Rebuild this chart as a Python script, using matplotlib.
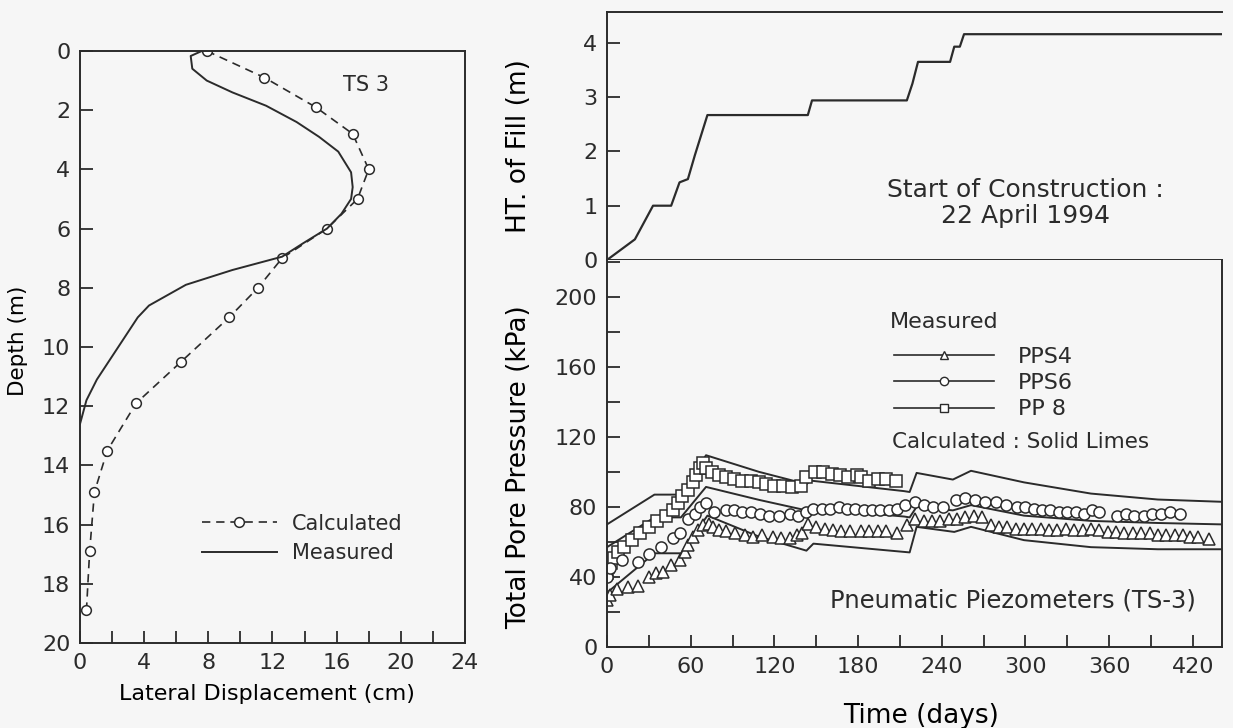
import matplotlib.pyplot as plt
from matplotlib.lines import Line2D
from matplotlib.ticker import MultipleLocator

# ---- lateral displacement profile (TS3) ----
calc_depth = [0, 0.9, 1.9, 2.8, 4.0, 5.0, 6.0, 7.0, 8.0, 9.0, 10.5, 11.9, 13.5, 14.9, 16.9, 18.9]
calc_disp = [7.9, 11.5, 14.7, 17.0, 18.0, 17.3, 15.4, 12.6, 11.1, 9.3, 6.3, 3.5, 1.7, 0.9, 0.6, 0.4]

meas_depth = [0, 0.17, 0.6, 1.0, 1.4, 1.85, 2.4, 2.9, 3.4, 4.1, 4.6, 5.0, 5.5, 6.0, 6.5,
              6.95, 7.4, 7.9, 8.6, 9.0, 10.4, 11.1, 11.8, 12.6]
meas_disp = [7.6, 6.9, 7.0, 7.9, 9.5, 11.6, 13.5, 14.9, 16.1, 16.9, 17.0, 16.9, 16.3, 15.4, 13.9,
             12.6, 9.5, 6.6, 4.3, 3.6, 1.9, 1.05, 0.4, 0.0]

# ---- height of fill ----
fill_day = [0, 20, 33, 46, 52, 58, 63, 72, 144, 147, 215, 219, 223, 246, 249, 253, 256, 441]
fill_h = [0, 0.38, 1.0, 1.0, 1.43, 1.49, 1.93, 2.67, 2.67, 2.94, 2.94, 3.25, 3.65, 3.65, 3.93, 3.93, 4.16, 4.16]

# ---- calculated pore pressure (solid lines) ----
calc8_day = [0, 34, 53, 71, 109, 143, 146, 213, 217, 222, 248, 261, 299, 347, 395, 441]
calc8_kpa = [70, 87, 87, 109.5, 100, 93, 95, 89, 88.5, 99.4, 95.6, 100.6, 94, 87.6, 84.2, 82.9]

calc6_day = [0, 34, 53, 71, 109, 143, 146, 213, 217, 222, 248, 261, 299, 347, 395, 441]
calc6_kpa = [57, 74, 74, 91.4, 84, 78, 79, 74.5, 74, 80, 78, 81, 75, 72, 70.8, 70]

calc4_day = [0, 34, 53, 72, 109, 143, 148, 217, 222, 249, 261, 299, 347, 395, 441]
calc4_kpa = [31, 53.5, 53.5, 75, 63, 55, 59, 54, 68.6, 65.7, 68.6, 61, 57, 55.8, 55.8]

# ---- measured pore pressure ----
pp8_day = [0, 1, 3, 5, 8, 12, 18, 24, 30, 36, 42, 47, 51, 54, 58, 62, 64, 67, 69, 71, 75, 80,
           85, 91, 97, 103, 109, 114, 120, 126, 133, 139, 143, 149, 155, 161, 167, 173, 179,
           182, 188, 194, 200, 207]
pp8_kpa = [42, 45.7, 48, 51, 54, 57, 61, 65, 68.6, 72, 75, 78, 82, 86, 89.5, 94, 98, 102, 105,
           102, 100, 98, 97, 96, 95, 95, 94, 93, 92, 92, 91.4, 92, 97, 100, 100, 99, 98, 97, 98,
           97, 95, 96, 96, 95]

pps6_day = [0, 2, 11, 22, 30, 39, 47, 52, 58, 63, 67, 71, 77, 85, 91, 97, 103, 110, 116, 123,
            131, 137, 143, 148, 154, 160, 166, 172, 178, 184, 190, 196, 202, 208, 214, 221,
            227, 234, 241, 250, 257, 264, 271, 279, 286, 294, 300, 306, 312, 318, 324, 330,
            336, 342, 348, 353, 366, 372, 378, 385, 391, 397, 404, 411]
pps6_kpa = [40, 45, 49.5, 48.6, 53, 57, 62, 65, 73, 76, 80, 82, 77, 78, 78, 77, 77, 76, 75, 75,
            76, 75, 77, 79, 79, 79, 80, 79, 79, 78, 78, 78, 78, 79, 81, 83, 81, 80, 80, 84, 85,
            84, 83, 83, 81, 80, 80, 79, 78, 78, 77, 77, 77, 76, 78, 77, 75, 76, 75, 75, 76, 76,
            77, 76]

pps4_day = [0, 2, 7, 15, 22, 30, 35, 40, 46, 52, 56, 58, 62, 65, 69, 73, 76, 80, 85, 92, 99,
            105, 111, 119, 125, 131, 136, 140, 144, 150, 156, 162, 168, 174, 182, 188, 194,
            200, 208, 215, 221, 227, 233, 239, 245, 251, 257, 263, 269, 275, 281, 287, 293,
            299, 305, 311, 317, 323, 329, 335, 341, 347, 353, 359, 365, 371, 377, 383, 389,
            395, 401, 407, 413, 418, 424, 432]
pps4_kpa = [26.7, 29.5, 33, 34, 35, 40, 42, 43, 47, 49.5, 54, 58, 63, 67, 69.5, 70.5, 68.6, 67,
            66, 65, 64, 63, 64, 63, 62, 62, 64, 65, 70.5, 68.6, 67.6, 67, 66, 66, 66, 66, 66,
            66, 65, 69.5, 73, 72, 72, 72, 73, 73, 74, 75, 74, 69.5, 68.6, 68.6, 67.6, 67.6,
            67.6, 67.6, 66.7, 66.7, 67.6, 66.7, 66.7, 67.6, 66.7, 65.7, 65.7, 64.8, 64.8, 64.8,
            64.8, 63.8, 63.8, 63.8, 63.8, 62.9, 62.9, 61.9]

ink = '#2b2b2b'
bg = '#f6f6f6'
plt.rcParams['font.family'] = 'DejaVu Sans'
plt.rcParams['text.color'] = ink
plt.rcParams['axes.edgecolor'] = ink
plt.rcParams['axes.linewidth'] = 1.4

fig = plt.figure(figsize=(12.33, 7.28), dpi=100, facecolor=bg)
ax_d = fig.add_axes([0.0649, 0.1168, 0.3122, 0.8132], facecolor=bg)
ax_f = fig.add_axes([0.4923, 0.6429, 0.4988, 0.3407], facecolor=bg)
ax_p = fig.add_axes([0.4923, 0.1113, 0.4988, 0.5316], facecolor=bg, sharex=ax_f)

for ax in [ax_d, ax_f, ax_p]:
    ax.tick_params(which='both', direction='in', length=9, width=1.3, colors=ink,
                   labelsize=16, pad=7)

# left panel
ax_d.plot(calc_disp, calc_depth, color=ink, lw=1.2, ls=(0, (5, 3.5)), marker='o', ms=7,
          mfc='white', mec=ink, mew=1.1, label='Calculated')
ax_d.plot(meas_disp, meas_depth, color=ink, lw=1.4, label='Measured')
ax_d.set_xlim(0, 24)
ax_d.set_ylim(20, 0)
ax_d.xaxis.set_major_locator(MultipleLocator(4))
ax_d.xaxis.set_minor_locator(MultipleLocator(2))
ax_d.yaxis.set_major_locator(MultipleLocator(2))
ax_d.set_xlabel('Lateral Displacement (cm)', fontsize=16, labelpad=8, x=0.486)
ax_d.set_ylabel('Depth (m)', fontsize=15.5)
ax_d.yaxis.set_label_coords(-0.135, 0.51)
ax_d.text(0.683, 0.943, 'TS 3', transform=ax_d.transAxes, fontsize=15, va='center')
leg_d = ax_d.legend(loc='upper left', bbox_to_anchor=(0.268, 0.25), frameon=False,
                    fontsize=15, handlelength=3.6, handletextpad=0.7, labelspacing=0.45)

# fill height panel
ax_f.plot(fill_day, fill_h, color=ink, lw=1.6)
ax_f.set_ylim(0, 4.57)
ax_f.set_xlim(0, 441)
ax_f.yaxis.set_major_locator(MultipleLocator(1))
ax_f.tick_params(axis='x', which='both', bottom=False, labelbottom=False)
ax_f.spines['right'].set_visible(False)
ax_f.set_ylabel('HT. of Fill (m)', fontsize=19)
ax_f.yaxis.set_label_coords(-0.122, 0.46)
ax_f.text(0.68, 0.228, 'Start of Construction :\n22 April 1994', transform=ax_f.transAxes,
          fontsize=18, ha='center', va='center', linespacing=1.1)

# pore pressure panel
for d, k in [(calc8_day, calc8_kpa), (calc6_day, calc6_kpa), (calc4_day, calc4_kpa)]:
    ax_p.plot(d, k, color=ink, lw=1.4)
mk = dict(ls='none', mfc='white', mec=ink, mew=1.1, ms=8)
ax_p.plot(pp8_day, pp8_kpa, marker='s', **mk)
ax_p.plot(pps6_day, pps6_kpa, marker='o', **mk)
ax_p.plot(pps4_day, pps4_kpa, marker='^', **mk)
ax_p.set_ylim(0, 221)
ax_p.xaxis.set_major_locator(MultipleLocator(60))
ax_p.xaxis.set_minor_locator(MultipleLocator(30))
ax_p.yaxis.set_major_locator(MultipleLocator(40))
ax_p.yaxis.set_minor_locator(MultipleLocator(20))
ax_p.spines['top'].set_visible(False)
ax_p.set_xlabel('Time (days)', fontsize=19, labelpad=19, x=0.51)
ax_p.set_ylabel('Total Pore Pressure (kPa)', fontsize=19)
ax_p.yaxis.set_label_coords(-0.122, 0.465)

hl = dict(color=ink, lw=1.2, mfc='white', mec=ink, mew=1.0, ms=6)
handles = [Line2D([], [], marker='^', **hl), Line2D([], [], marker='o', **hl),
           Line2D([], [], marker='s', **hl)]
ax_p.text(0.46, 0.84, 'Measured', transform=ax_p.transAxes, fontsize=16, va='center')
leg_p = ax_p.legend(handles, ['PPS4', 'PPS6', 'PP 8'], loc='upper left',
                    bbox_to_anchor=(0.434, 0.828), frameon=False, fontsize=16,
                    handlelength=4.5, handletextpad=1.1, labelspacing=0.29)
ax_p.text(0.463, 0.53, 'Calculated : Solid Limes', transform=ax_p.transAxes, fontsize=15.5,
          va='center')
ax_p.text(0.66, 0.121, 'Pneumatic Piezometers (TS-3)', transform=ax_p.transAxes,
          fontsize=17.5, ha='center', va='center')

fig.savefig('out.png', dpi=100, facecolor=bg)
